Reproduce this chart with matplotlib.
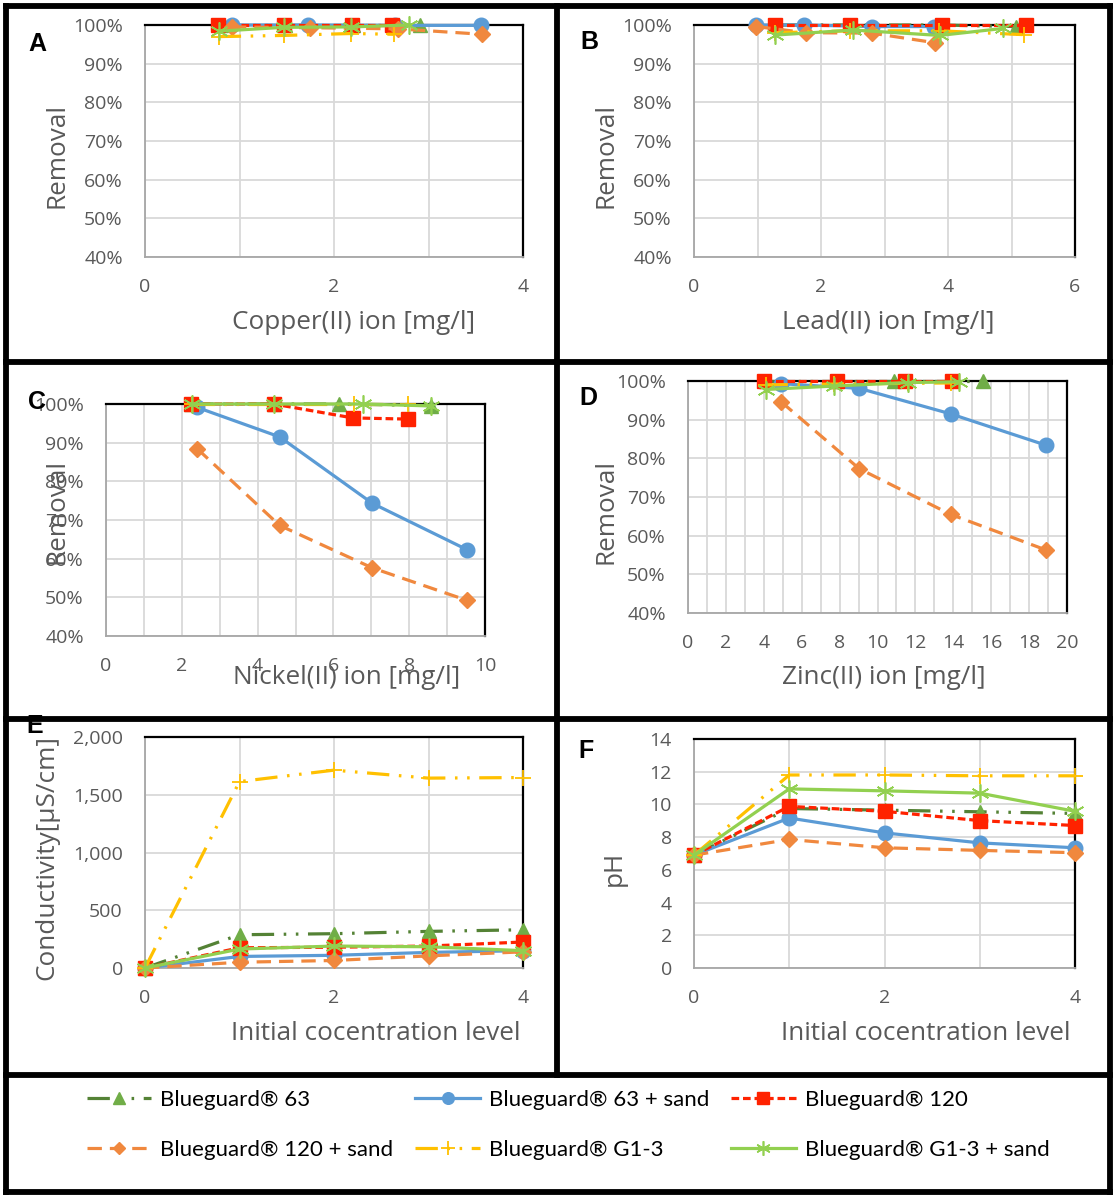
import matplotlib
matplotlib.use("Agg")
import matplotlib.pyplot as plt
from matplotlib.lines import Line2D
from matplotlib.ticker import MultipleLocator, PercentFormatter, FuncFormatter

W, H = 1114, 1195
plt.rcParams['font.family'] = ['Open Sans', 'DejaVu Sans']

# ---------------- data ----------------
series_names = ["Blueguard® 63", "Blueguard® 63 + sand", "Blueguard® 120",
                "Blueguard® 120 + sand", "Blueguard® G1-3", "Blueguard® G1-3 + sand"]

# Panel A: Copper(II)
cu_63_x = [0.80, 1.48, 2.20, 2.91];   cu_63_y = [100, 100, 100, 100]
cu_63s_x = [0.92, 1.72, 2.65, 3.56];  cu_63s_y = [100, 100, 99.9, 99.9]
cu_120_x = [0.77, 1.47, 2.19, 2.61];  cu_120_y = [100, 100, 100, 100]
cu_120s_x = [0.92, 1.75, 2.68, 3.57]; cu_120s_y = [99.5, 99.3, 99.0, 97.6]
cu_g13_x = [0.78, 1.47, 2.18, 2.63];  cu_g13_y = [97.0, 97.3, 97.8, 97.6]
cu_g13s_x = [0.78, 1.47, 2.18, 2.79]; cu_g13s_y = [98.4, 99.4, 99.5, 100]

# Panel B: Lead(II)
pb_63_x = [1.30, 2.50, 3.90, 5.07];   pb_63_y = [100, 100, 100, 99.6]
pb_63s_x = [0.98, 1.74, 2.80, 3.78];  pb_63s_y = [100, 100, 99.6, 99.6]
pb_120_x = [1.27, 2.46, 3.91, 5.23];  pb_120_y = [100, 100, 100, 100]
pb_120s_x = [0.98, 1.77, 2.80, 3.80]; pb_120s_y = [99.6, 98.0, 97.9, 95.4]
pb_g13_x = [1.28, 2.46, 3.86, 5.20];  pb_g13_y = [98.0, 98.5, 98.5, 97.5]
pb_g13s_x = [1.28, 2.51, 3.87, 4.86]; pb_g13s_y = [97.4, 98.7, 97.3, 99.1]

# Panel C: Nickel(II)
ni_63_x = [2.25, 4.42, 6.14, 8.57];   ni_63_y = [100, 100, 100, 99.6]
ni_63s_x = [2.41, 4.58, 7.03, 9.53];  ni_63s_y = [99.1, 91.5, 74.3, 62.3]
ni_120_x = [2.25, 4.42, 6.51, 7.96];  ni_120_y = [100, 100, 96.4, 96.1]
ni_120s_x = [2.41, 4.58, 7.03, 9.53]; ni_120s_y = [88.4, 68.6, 57.6, 49.2]
ni_g13_x = [2.26, 4.42, 6.55, 7.96];  ni_g13_y = [100, 100, 100, 100]
ni_g13s_x = [2.26, 4.42, 6.77, 8.57]; ni_g13s_y = [100, 100, 100, 99.5]

# Panel D: Zinc(II)
zn_63_x = [4.10, 7.80, 10.87, 15.56]; zn_63_y = [100, 100, 100, 100]
zn_63s_x = [4.92, 9.04, 13.86, 18.89]; zn_63s_y = [99.3, 98.1, 91.5, 83.4]
zn_120_x = [4.03, 7.84, 11.45, 13.91]; zn_120_y = [100, 100, 100, 100]
zn_120s_x = [4.92, 9.04, 13.86, 18.89]; zn_120s_y = [94.6, 77.3, 65.5, 56.3]
zn_g13_x = [4.09, 7.72, 11.60, 13.90]; zn_g13_y = [99.0, 99.2, 99.4, 99.5]
zn_g13s_x = [4.09, 7.72, 11.63, 14.30]; zn_g13s_y = [97.8, 98.7, 99.6, 99.8]

# Panel E: Conductivity
levels = [0, 1, 2, 3, 4]
ec_63 = [0, 288, 297, 317, 331]
ec_63s = [0, 100, 110, 135, 150]
ec_120 = [0, 175, 180, 190, 225]
ec_120s = [0, 50, 65, 105, 140]
ec_g13 = [0, 1614, 1713, 1644, 1649]
ec_g13s = [0, 164, 190, 184, 150]

# Panel F: pH
ph_63 = [6.9, 9.75, 9.65, 9.55, 9.45]
ph_63s = [6.9, 9.17, 8.26, 7.65, 7.35]
ph_120 = [6.9, 9.88, 9.58, 9.01, 8.71]
ph_120s = [6.9, 7.86, 7.35, 7.19, 7.05]
ph_g13 = [6.9, 11.8, 11.8, 11.75, 11.75]
ph_g13s = [6.9, 10.95, 10.83, 10.69, 9.58]

# ---------------- styles ----------------
LW = 2.3
styles = [
    dict(color="#548235", ls=(0, (7, 3, 0.8, 3, 0.8, 3)), marker="^", mfc="#70AD47", mec="#70AD47", ms=10),
    dict(color="#5B9BD5", ls="-", marker="o", mfc="#5B9BD5", mec="#5B9BD5", ms=10.5),
    dict(color="#FF2200", ls=(0, (2.4, 1.2)), marker="s", mfc="#FF2200", mec="#FF2200", ms=10),
    dict(color="#F0883E", ls=(0, (4.5, 2.5)), marker="D", mfc="#F0883E", mec="#F0883E", ms=8),
    dict(color="#FFC000", ls=(0, (7, 3, 0.8, 3, 0.8, 3)), marker="+", mfc="#FFC000", mec="#FFC000", ms=12, mew=1.3),
    dict(color="#92D050", ls="-", marker=(6, 2, 0), mfc="#92D050", mec="#92D050", ms=13, mew=1.2),
]

GRAY_TXT = "#595959"
GRID = "#d9d9d9"

fig = plt.figure(figsize=(W / 100, H / 100), dpi=100)

def add_axes(x0, y0, x1, y1):
    return fig.add_axes([x0 / W, 1 - y1 / H, (x1 - x0) / W, (y1 - y0) / H])

def style_ax(ax, xmax, ymin, ymax, ystep, xmajor=2, pct=True):
    ax.set_xlim(0, xmax)
    ax.set_ylim(ymin, ymax)
    ax.xaxis.set_major_locator(MultipleLocator(xmajor))
    ax.xaxis.set_minor_locator(MultipleLocator(1))
    ax.yaxis.set_major_locator(MultipleLocator(ystep))
    ax.grid(which="both", axis="x", color=GRID, lw=1.3)
    ax.grid(which="major", axis="y", color=GRID, lw=1.3)
    ax.set_axisbelow(True)
    ax.tick_params(which="both", length=0, labelsize=14, labelcolor=GRAY_TXT, pad=15)
    ax.tick_params(axis="y", pad=16)
    for s in ("left", "bottom"):
        ax.spines[s].set_color("#a6a6a6")
        ax.spines[s].set_linewidth(1.3)
    for s in ("top", "right"):
        ax.spines[s].set_color("black")
        ax.spines[s].set_linewidth(1.6)
    if pct:
        ax.yaxis.set_major_formatter(PercentFormatter(xmax=100, decimals=0))

def plot_series(ax, xs_list, ys_list):
    for xs, ys, st in zip(xs_list, ys_list, styles):
        ax.plot(xs, ys, color=st["color"], ls=st["ls"], lw=LW, marker=st["marker"],
                mfc=st["mfc"], mec=st["mec"], ms=st["ms"], mew=st.get("mew", 1),
                clip_on=False, zorder=3)

def ftext(x, y, s, **kw):
    fig.text(x / W, 1 - y / H, s, **kw)

# Panel A
axA = add_axes(145, 25, 523, 257)
style_ax(axA, 4, 40, 100, 10)
plot_series(axA, [cu_63_x, cu_63s_x, cu_120_x, cu_120s_x, cu_g13_x, cu_g13s_x],
            [cu_63_y, cu_63s_y, cu_120_y, cu_120s_y, cu_g13_y, cu_g13s_y])
# Panel B
axB = add_axes(694, 25, 1075, 257)
style_ax(axB, 6, 40, 100, 10)
plot_series(axB, [pb_63_x, pb_63s_x, pb_120_x, pb_120s_x, pb_g13_x, pb_g13s_x],
            [pb_63_y, pb_63s_y, pb_120_y, pb_120s_y, pb_g13_y, pb_g13s_y])
# Panel C
axC = add_axes(106, 404, 485, 636)
style_ax(axC, 10, 40, 100, 10)
plot_series(axC, [ni_63_x, ni_63s_x, ni_120_x, ni_120s_x, ni_g13_x, ni_g13s_x],
            [ni_63_y, ni_63s_y, ni_120_y, ni_120s_y, ni_g13_y, ni_g13s_y])
# Panel D
axD = add_axes(688, 381, 1067, 613)
style_ax(axD, 20, 40, 100, 10)
plot_series(axD, [zn_63_x, zn_63s_x, zn_120_x, zn_120s_x, zn_g13_x, zn_g13s_x],
            [zn_63_y, zn_63s_y, zn_120_y, zn_120s_y, zn_g13_y, zn_g13s_y])
# Panel E
axE = add_axes(145, 737, 523, 968)
style_ax(axE, 4, 0, 2000, 500, pct=False)
axE.yaxis.set_major_formatter(FuncFormatter(lambda v, p: f"{v:,.0f}"))
plot_series(axE, [levels] * 6, [ec_63, ec_63s, ec_120, ec_120s, ec_g13, ec_g13s])
# Panel F
axF = add_axes(694, 739, 1075, 968)
style_ax(axF, 4, 0, 14, 2, pct=False)
plot_series(axF, [levels] * 6, [ph_63, ph_63s, ph_120, ph_120s, ph_g13, ph_g13s])

# Axis labels and panel letters
lab = dict(fontsize=18.8, color=GRAY_TXT)
ftext(57, 155, "Removal", rotation=90, ha="center", va="center", **lab)
ftext(606, 155, "Removal", rotation=90, ha="center", va="center", **lab)
ftext(57, 512, "Removal", rotation=90, ha="center", va="center", **lab)
ftext(606, 512, "Removal", rotation=90, ha="center", va="center", **lab)
ftext(47, 857, "Conductivity[µS/cm]", rotation=90, ha="center", va="center", **lab)
ftext(614, 868, "pH", rotation=90, ha="center", va="center", **lab)
ftext(354, 322, "Copper(II) ion [mg/l]", ha="center", va="center", **lab)
ftext(888, 322, "Lead(II) ion [mg/l]", ha="center", va="center", **lab)
ftext(347, 677, "Nickel(II) ion [mg/l]", ha="center", va="center", **lab)
ftext(884, 677, "Zinc(II) ion [mg/l]", ha="center", va="center", **lab)
ftext(376, 1034, "Initial cocentration level", ha="center", va="center", **lab)
ftext(926, 1034, "Initial cocentration level", ha="center", va="center", **lab)

letter = dict(fontsize=18, fontweight="bold", color="black", family=["Liberation Sans", "DejaVu Sans"],
              ha="center", va="center")
ftext(37, 44, "A", **letter)
ftext(589, 42, "B", **letter)
ftext(37, 402, "C", **letter)
ftext(588, 398, "D", **letter)
ftext(35, 726, "E", **letter)
ftext(586, 751, "F", **letter)

# Legend
handles = []
for name, st in zip(series_names, styles):
    handles.append(Line2D([], [], color=st["color"], ls=st["ls"], lw=LW, marker=st["marker"],
                          mfc=st["mfc"], mec=st["mec"], ms=st["ms"] * 0.8, mew=st.get("mew", 1),
                          label=name))
order = [0, 3, 1, 4, 2, 5]
fig.legend([handles[i] for i in order], [series_names[i] for i in order],
           loc="center", bbox_to_anchor=(568 / W, 1 - 1125 / H), ncol=3, frameon=False,
           prop={"family": ["Lato", "DejaVu Sans"], "size": 16},
           handlelength=2.9, columnspacing=1.0, labelspacing=1.35,
           handletextpad=0.4, labelcolor="black")

# Black frames
def fline(x0, y0, x1, y1, lw=4.2):
    fig.add_artist(Line2D([x0 / W, x1 / W], [1 - y0 / H, 1 - y1 / H], color="black",
                          lw=lw, solid_capstyle="projecting", transform=fig.transFigure))

fline(6, 6, 1110, 6)
fline(6, 6, 6, 1192)
fline(1110, 6, 1110, 1192)
fline(6, 1192, 1110, 1192)
fline(557, 6, 557, 1075)
fline(6, 362, 1110, 362)
fline(6, 719, 1110, 719)
fline(6, 1075, 1110, 1075)

fig.savefig("out.png", dpi=100)
